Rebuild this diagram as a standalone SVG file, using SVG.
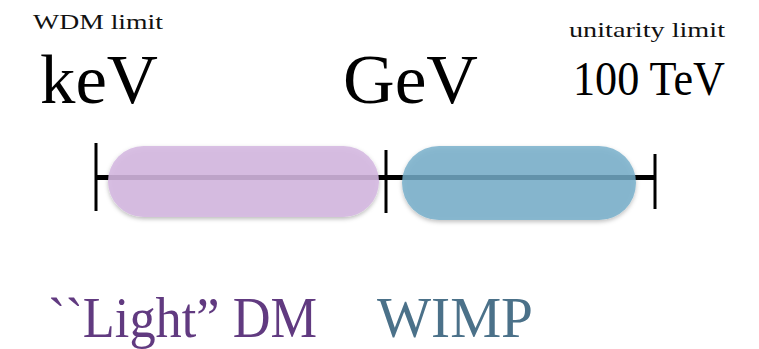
<svg xmlns="http://www.w3.org/2000/svg" width="759" height="349" viewBox="0 0 759 349">
<style>
.serif{font-family:"Liberation Serif","Times New Roman",serif;}
.small{font-size:21px;fill:#111;}
.big{font-size:70px;fill:#000;}
.axis{stroke:#000;stroke-width:5;fill:none;}
.tick{stroke:#000;stroke-width:3;fill:none;}
</style>
<defs>
<filter id="sh" x="-10%" y="-20%" width="120%" height="150%">
<feDropShadow dx="0" dy="2" stdDeviation="2" flood-color="#000" flood-opacity="0.3"/>
</filter>
</defs>
<g id="connectors">
<line class="axis" x1="96" y1="177.5" x2="656" y2="177.5"/>
<line class="tick" x1="96" y1="143" x2="96" y2="211"/>
<line class="tick" x1="386" y1="150" x2="386" y2="213"/>
<line class="tick" x1="655" y1="154" x2="655" y2="209"/>
</g>
<g id="light-dm" filter="url(#sh)">
<rect x="108" y="146" width="271" height="71" rx="35.5" fill="#d5b8e1" fill-opacity="0.87"/>
</g>
<g id="wimp" filter="url(#sh)">
<rect x="402" y="146" width="234" height="74" rx="37" fill="#75aeca" fill-opacity="0.815"/>
</g>
<g id="labels" class="serif">
<text class="small" x="33" y="29" textLength="130" lengthAdjust="spacingAndGlyphs">WDM limit</text>
<text class="big" x="40" y="103" textLength="118" lengthAdjust="spacingAndGlyphs">keV</text>
<text class="big" x="343" y="103" textLength="135" lengthAdjust="spacingAndGlyphs">GeV</text>
<text class="small" x="569" y="37" textLength="156" lengthAdjust="spacingAndGlyphs">unitarity limit</text>
<text x="573" y="95" font-size="48" fill="#000" textLength="152" lengthAdjust="spacingAndGlyphs">100 TeV</text>
<text x="48" y="337" font-size="58" fill="#613a80" textLength="269" lengthAdjust="spacingAndGlyphs">``Light” DM</text>
<text x="377" y="337" font-size="58" fill="#4b7189" textLength="156" lengthAdjust="spacingAndGlyphs">WIMP</text>
</g>
</svg>
